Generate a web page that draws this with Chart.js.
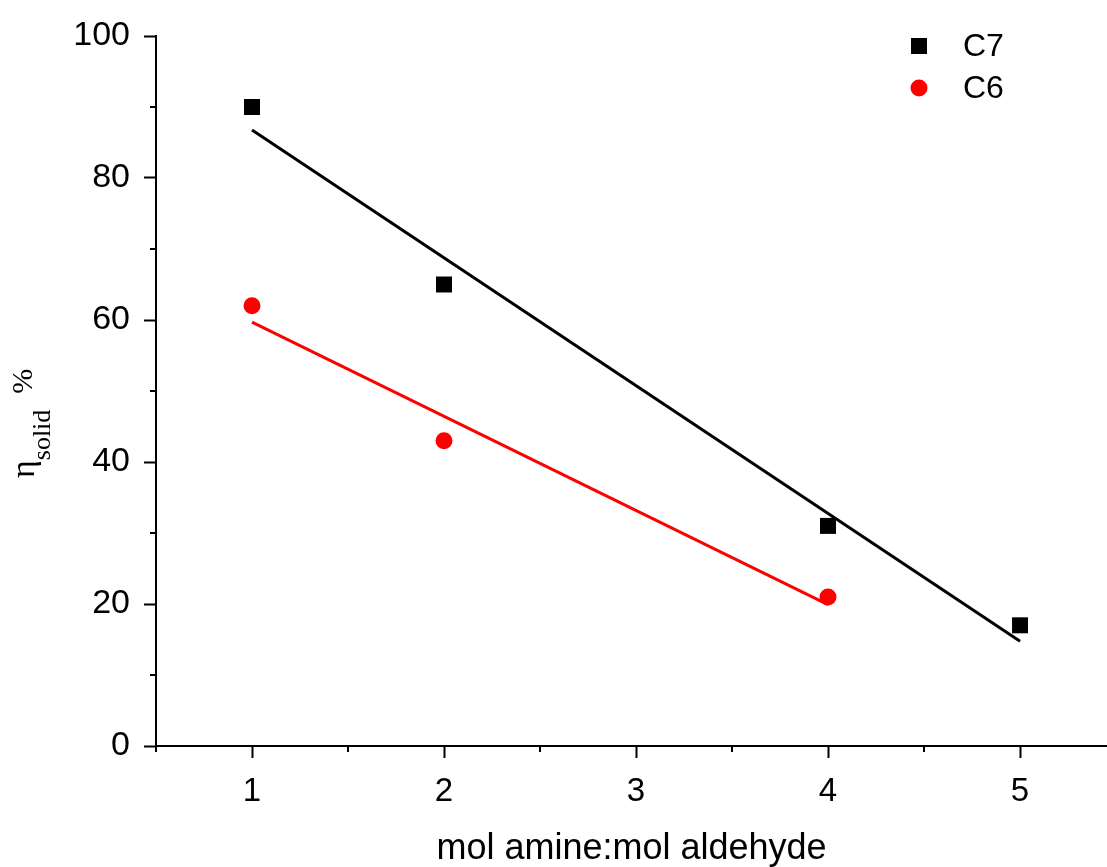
<!DOCTYPE html>
<html>
<head>
<meta charset="utf-8">
<script src="https://cdn.jsdelivr.net/npm/chart.js@4.4.0/dist/chart.umd.min.js"></script>
<style>
  html, body { margin: 0; padding: 0; background: #ffffff; }
  #wrap { width: 1107px; height: 867px; }
</style>
</head>
<body>
<div id="wrap"><canvas id="c" width="1107" height="867"></canvas></div>
<script>
// ---- data ----
const seriesNames = ['C7', 'C6'];
const c7X = [1, 2, 4, 5];
const c7Y = [90, 65, 31, 17];
const c6X = [1, 2, 4];
const c6Y = [62, 43, 21];
// linear-fit lines (end points)
const c7FitX = [1, 5];
const c7FitY = [86.75, 14.75];
const c6FitX = [1, 4];
const c6FitY = [59.7, 19.9];
// axis ticks
const xMajorTicks = [1, 2, 3, 4, 5];
const xMinorTicks = [0.5, 1.5, 2.5, 3.5, 4.5];
const yMajorTicks = [0, 20, 40, 60, 80, 100];
const yMinorTicks = [10, 30, 50, 70, 90];
const xTitle = 'mol amine:mol aldehyde';

const toPts = (xs, ys) => xs.map((x, i) => ({ x: x, y: ys[i] }));
const SANS = '"Liberation Sans", Arial, sans-serif';
const SERIF = '"Liberation Serif", "Times New Roman", serif';

const extras = {
  id: 'extras',
  afterDraw(chart) {
    const ctx = chart.ctx;
    const xs = chart.scales.x, ys = chart.scales.y;
    const area = chart.chartArea;
    ctx.save();
    ctx.strokeStyle = '#000';
    ctx.lineWidth = 2;
    // minor ticks
    ctx.beginPath();
    yMinorTicks.forEach(v => {
      const p = ys.getPixelForValue(v);
      ctx.moveTo(area.left, p); ctx.lineTo(area.left - 6, p);
    });
    xMinorTicks.forEach(v => {
      const p = xs.getPixelForValue(v);
      ctx.moveTo(p, area.bottom); ctx.lineTo(p, area.bottom + 6);
    });
    ctx.stroke();

    // legend
    const ds = chart.data.datasets;
    ctx.font = '32px ' + SANS;
    ctx.textBaseline = 'middle';
    ctx.textAlign = 'left';
    ctx.fillStyle = ds[0].backgroundColor;
    ctx.fillRect(919 - 8, 46 - 8, 16, 16);
    ctx.fillStyle = '#000';
    ctx.fillText(ds[0].label, 963, 47);
    ctx.fillStyle = ds[1].backgroundColor;
    ctx.beginPath(); ctx.arc(919, 88, 8.5, 0, Math.PI * 2); ctx.fill();
    ctx.fillStyle = '#000';
    ctx.fillText(ds[1].label, 963, 89);

    // y axis title: eta_solid %
    ctx.translate(0, 478);
    ctx.rotate(-Math.PI / 2);
    ctx.textBaseline = 'alphabetic';
    ctx.fillStyle = '#000';
    ctx.font = '34px ' + SERIF;
    ctx.fillText('\u03B7', 0, 34);
    const w = ctx.measureText('\u03B7').width;
    ctx.font = '26px ' + SERIF;
    ctx.fillText('solid', w, 50);
    const w2 = ctx.measureText('solid').width;
    ctx.font = '30px ' + SERIF;
    ctx.fillText('%', w + w2 + 16, 32);
    ctx.restore();
  }
};

new Chart(document.getElementById('c'), {
  type: 'scatter',
  data: {
    datasets: [
      { label: seriesNames[0], data: toPts(c7X, c7Y), pointStyle: 'rect', pointRadius: 11.3,
        pointHoverRadius: 11.3, backgroundColor: '#000000', borderColor: '#000000', borderWidth: 0, showLine: false, order: 0 },
      { label: seriesNames[1], data: toPts(c6X, c6Y), pointStyle: 'circle', pointRadius: 8.5,
        pointHoverRadius: 8.5, backgroundColor: '#ff0000', borderColor: '#ff0000', borderWidth: 0, showLine: false, order: 1 },
      { label: 'C7 fit', data: toPts(c7FitX, c7FitY), showLine: true, pointRadius: 0,
        borderColor: '#000000', borderWidth: 3, backgroundColor: '#000000', order: 2 },
      { label: 'C6 fit', data: toPts(c6FitX, c6FitY), showLine: true, pointRadius: 0,
        borderColor: '#ff0000', borderWidth: 3, backgroundColor: '#ff0000', order: 3 }
    ]
  },
  options: {
    responsive: false,
    animation: false,
    events: [],
    layout: { autoPadding: false, padding: { top: 36, right: 0, bottom: 0, left: 0 } },
    plugins: { legend: { display: false }, tooltip: { enabled: false } },
    scales: {
      x: {
        type: 'linear', min: 0.5, max: 5.453,
        afterBuildTicks: s => { s.ticks = xMajorTicks.map(v => ({ value: v })); },
        afterFit: s => { s.height = 121; s.paddingRight = 0; s.paddingLeft = 0; },
        ticks: { color: '#000', font: { family: SANS, size: 33 }, padding: 14, maxRotation: 0 },
        grid: { drawOnChartArea: false, drawTicks: true, tickLength: 12, tickWidth: 2, tickColor: '#000' },
        border: { display: true, color: '#000', width: 2 },
        title: { display: true, text: xTitle, color: '#000', font: { family: SANS, size: 36, lineHeight: 1 }, padding: { top: 0, bottom: 0 } }
      },
      y: {
        type: 'linear', min: 0, max: 100,
        afterBuildTicks: s => { s.ticks = yMajorTicks.map(v => ({ value: v })); },
        afterFit: s => { s.width = 156; },
        ticks: { color: '#000', font: { family: SANS, size: 34 }, padding: 14 },
        grid: { drawOnChartArea: false, drawTicks: true, tickLength: 12, tickWidth: 2, tickColor: '#000' },
        border: { display: true, color: '#000', width: 2 }
      }
    }
  },
  plugins: [extras]
});
</script>
</body>
</html>
